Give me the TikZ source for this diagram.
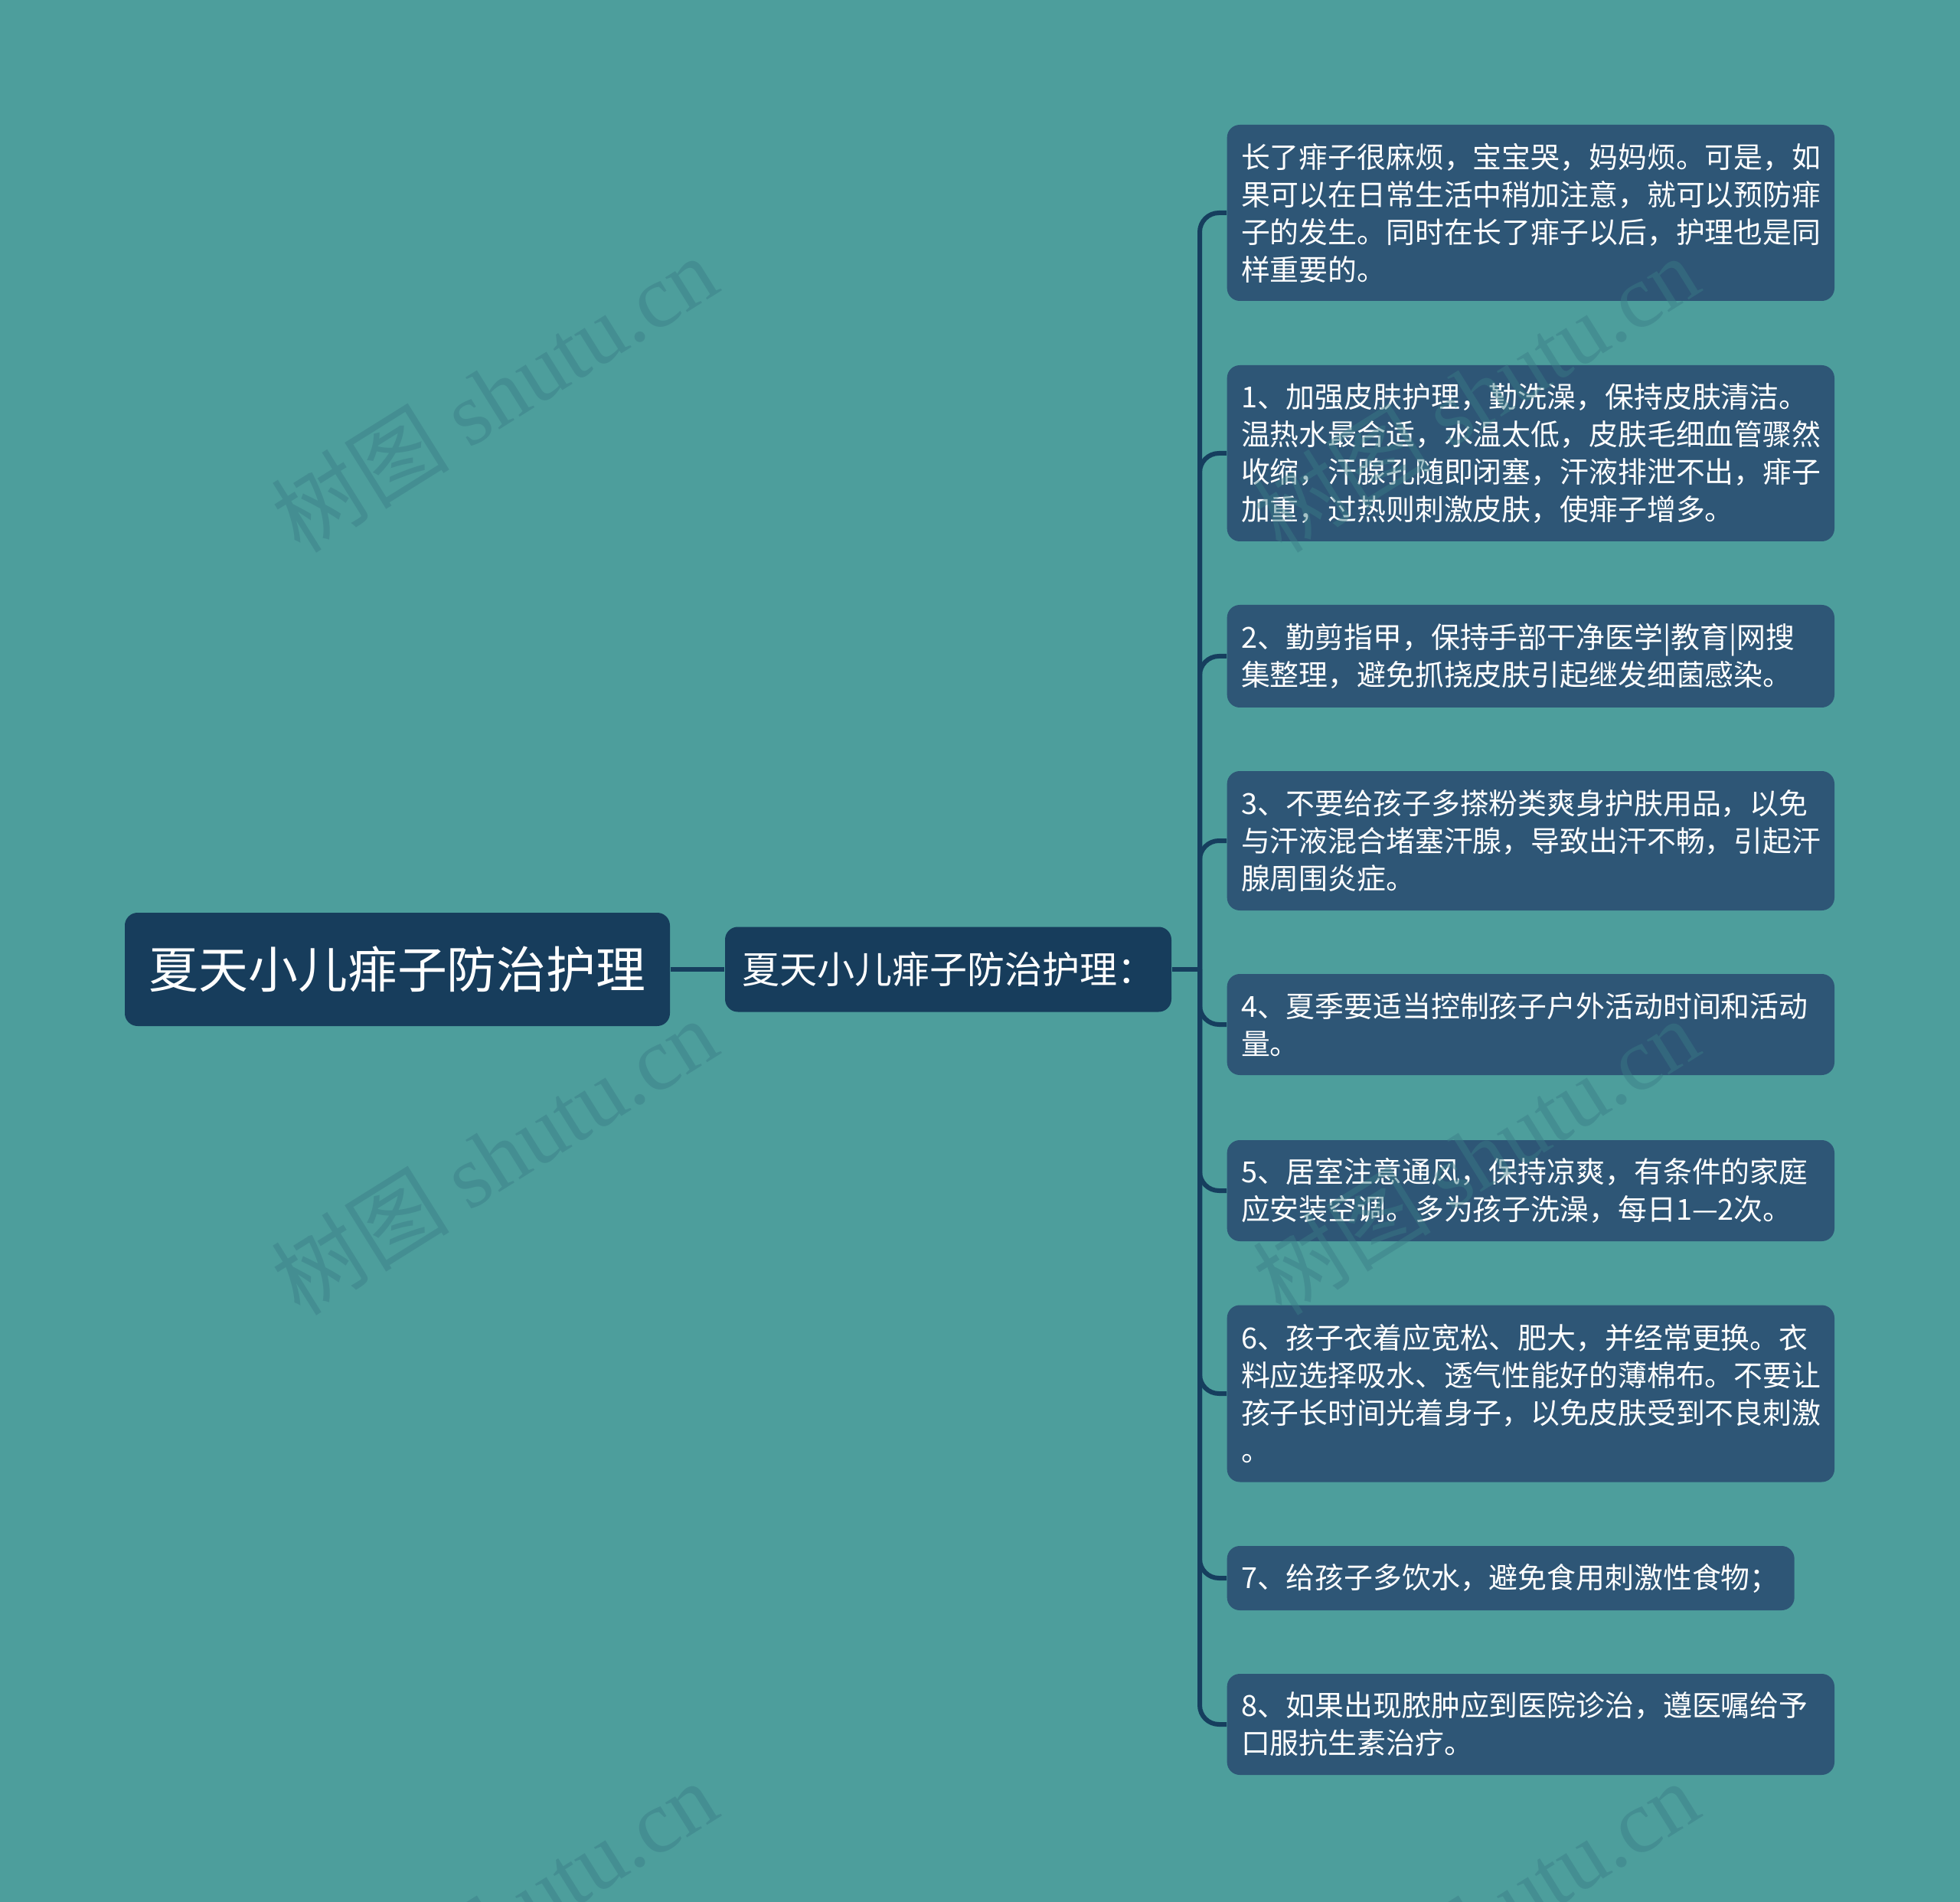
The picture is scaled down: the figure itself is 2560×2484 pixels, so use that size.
\documentclass[tikz,border=0pt]{standalone}
\usepackage{fontspec}
\setmainfont{Noto Sans CJK SC}
\newfontfamily\wmserif{Liberation Serif}
\newfontfamily\wmcjk{Noto Sans CJK SC}
\definecolor{bgc}{RGB}{77,158,156}
\definecolor{rootc}{RGB}{23,61,92}
\definecolor{leafc}{RGB}{46,86,118}
\definecolor{connc}{RGB}{22,62,94}
\definecolor{wmc}{RGB}{58,124,134}
\tikzset{
  rootbox/.style={fill=rootc, text=white, rounded corners=5pt, inner sep=0pt,
    minimum width=213.6pt, minimum height=44.4pt, align=center,
    font=\fontsize{19.45pt}{24pt}\selectfont},
  midbox/.style={fill=rootc, text=white, rounded corners=5pt, inner sep=0pt,
    minimum width=174.9pt, minimum height=33.3pt, align=center,
    font=\fontsize{14.7pt}{18pt}\selectfont},
  leafbox/.style={fill=leafc, text=white, rounded corners=5pt, inner xsep=5.5pt, inner ysep=0pt,
    text width=227pt, align=left, anchor=west,
    font=\fontsize{11.36pt}{14.7pt}\selectfont},
  conn/.style={draw=connc, line width=1.8pt},
  wm/.style={text=wmc, opacity=0.45, rotate=32, inner sep=0pt, font=\fontsize{35pt}{38pt}\selectfont}
}
\begin{document}
\begin{tikzpicture}[x=0.3pt, y=-0.3pt]
\fill[bgc] (0,0) rectangle (2560,2484);
\useasboundingbox (0,0) rectangle (2560,2484);

\node[rootbox] (root) at (519,1266) {夏天小儿痱子防治护理};
\node[midbox] (mid) at (1238.5,1266) {夏天小儿痱子防治护理：};

\node[leafbox, minimum height=69pt] (l0) at (1602,278) {长了痱子很麻烦，宝宝哭，妈妈烦。可是，如\\果可以在日常生活中稍加注意，就可以预防痱\\子的发生。同时在长了痱子以后，护理也是同\\样重要的。};
\node[leafbox, minimum height=69pt] (l1) at (1602,592) {1、加强皮肤护理，勤洗澡，保持皮肤清洁。\\温热水最合适，水温太低，皮肤毛细血管骤然\\收缩，汗腺孔随即闭塞，汗液排泄不出，痱子\\加重，过热则刺激皮肤，使痱子增多。};
\node[leafbox, minimum height=40.2pt] (l2) at (1602,857) {2、勤剪指甲，保持手部干净医学|教育|网搜\\集整理，避免抓挠皮肤引起继发细菌感染。};
\node[leafbox, minimum height=54.6pt] (l3) at (1602,1098) {3、不要给孩子多搽粉类爽身护肤用品，以免\\与汗液混合堵塞汗腺，导致出汗不畅，引起汗\\腺周围炎症。};
\node[leafbox, minimum height=39.6pt] (l4) at (1602,1338) {4、夏季要适当控制孩子户外活动时间和活动\\量。};
\node[leafbox, minimum height=39.6pt] (l5) at (1602,1555) {5、居室注意通风，保持凉爽，有条件的家庭\\应安装空调。多为孩子洗澡，每日1—2次。};
\node[leafbox, minimum height=69.3pt] (l6) at (1602,1820) {6、孩子衣着应宽松、肥大，并经常更换。衣\\料应选择吸水、透气性能好的薄棉布。不要让\\孩子长时间光着身子，以免皮肤受到不良刺激\\。};
\node[leafbox, text width=211.3pt, minimum height=25.2pt] (l7) at (1602,2061) {7、给孩子多饮水，避免食用刺激性食物；};
\node[leafbox, minimum height=39.6pt] (l8) at (1602,2252) {8、如果出现脓肿应到医院诊治，遵医嘱给予\\口服抗生素治疗。};

\coordinate (hub) at (1567,1266);
\draw[conn] (root.east) -- (mid.west);
\draw[conn] (mid.east) -- (hub);
\foreach \n in {l0,l1,l2,l3,l4,l5,l6,l7,l8}
  \draw[conn, rounded corners=7.5pt] (hub) |- (\n.west);

\foreach \wx/\wy [count=\i] in {645/514, 645/1510, 645/2506, 1927/514, 1927/1510, 1927/2506}
  \node[wm] (wm\i) at (\wx,\wy) {{\wmcjk 树图} {\wmserif shutu.cn}};
\end{tikzpicture}
\end{document}
